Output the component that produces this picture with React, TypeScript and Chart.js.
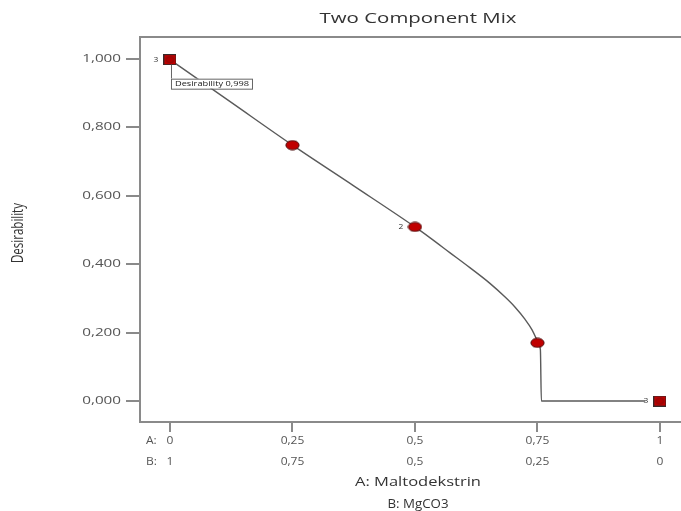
import React, { useEffect, useRef } from "react";
import { Chart, registerables } from "chart.js";

Chart.register(...registerables);

// ---- data ----
const titleText = "Two Component Mix";
const yTitle = "Desirability";
const xTitleA = "A: Maltodekstrin";
const xTitleB = "B: MgCO3";

const yTicks = [0, 0.2, 0.4, 0.6, 0.8, 1.0];
const yTickLabels = ["0,000", "0,200", "0,400", "0,600", "0,800", "1,000"];
const xTicks = [0, 0.25, 0.5, 0.75, 1];
const aTickLabels = ["0", "0,25", "0,5", "0,75", "1"];
const bTickLabels = ["1", "0,75", "0,5", "0,25", "0"];

// desirability curve
const curveX = [0, 0.125, 0.25, 0.375, 0.5, 0.531, 0.571, 0.612, 0.653, 0.684, 0.704, 0.724, 0.739, 0.747, 0.751, 0.756, 0.758, 0.97];
const curveY = [0.998, 0.873, 0.748, 0.629, 0.509, 0.477, 0.434, 0.39, 0.344, 0.304, 0.275, 0.24, 0.208, 0.184, 0.17, 0.15, 0.0, 0.0];

// design points
const designX = [0.25, 0.5, 0.75];
const designY = [0.748, 0.509, 0.17];
const designLabels = ["", "2", ""];

// end (replicated) points
const endX = [0, 1];
const endY = [0.998, 0];
const endLabels = ["3", "3"];

const optimumLabel = "Desirability 0,998";

const FONT = '"Open Sans", "Noto Sans", sans-serif';

function makeEllipse(): HTMLCanvasElement {
  const c = document.createElement("canvas");
  c.width = 15;
  c.height = 11;
  const g = c.getContext("2d")!;
  g.beginPath();
  g.ellipse(7.5, 5.5, 6.6, 4.6, 0, 0, Math.PI * 2);
  g.fillStyle = "#c00000";
  g.fill();
  g.lineWidth = 1;
  g.strokeStyle = "#4a0a0a";
  g.stroke();
  return c;
}

function makeSquare(): HTMLCanvasElement {
  const c = document.createElement("canvas");
  c.width = 13;
  c.height = 11;
  const g = c.getContext("2d")!;
  g.fillStyle = "#3a2a2a";
  g.fillRect(0, 0, 13, 11);
  g.fillStyle = "#c00000";
  g.fillRect(1, 1, 11, 9);
  g.beginPath();
  g.ellipse(6.5, 5.5, 4, 3.2, 0, 0, Math.PI * 2);
  g.fillStyle = "#b00000";
  g.fill();
  g.lineWidth = 0.8;
  g.strokeStyle = "#7a1010";
  g.stroke();
  return c;
}

function stretchText(
  ctx: CanvasRenderingContext2D,
  text: string,
  x: number,
  y: number,
  font: string,
  sx: number,
  align: CanvasTextAlign,
  color: string
) {
  ctx.save();
  ctx.font = font;
  ctx.fillStyle = color;
  ctx.textBaseline = "middle";
  ctx.textAlign = align;
  ctx.translate(x, y);
  ctx.scale(sx, 1);
  ctx.fillText(text, 0, 0);
  ctx.restore();
}

function fitText(
  ctx: CanvasRenderingContext2D,
  text: string,
  cx: number,
  cy: number,
  font: string,
  width: number,
  color: string,
  rotate = false
) {
  ctx.save();
  ctx.font = font;
  ctx.fillStyle = color;
  ctx.textBaseline = "middle";
  ctx.textAlign = "center";
  const w = ctx.measureText(text).width;
  ctx.translate(cx, cy);
  if (rotate) {
    ctx.rotate(-Math.PI / 2);
    ctx.scale(width / w, 1.3);
  } else {
    ctx.scale(width / w, 1);
  }
  ctx.fillText(text, 0, 0);
  ctx.restore();
}

const decorPlugin = {
  id: "decor",
  afterDraw(chart: any) {
    const ctx: CanvasRenderingContext2D = chart.ctx;
    const { chartArea } = chart;
    const xs = chart.scales.x;
    const ys = chart.scales.y;

    // top frame line
    ctx.save();
    ctx.strokeStyle = "#8a8a8a";
    ctx.lineWidth = 2;
    ctx.beginPath();
    ctx.moveTo(chartArea.left - 1, chartArea.top);
    ctx.lineTo(chart.width, chartArea.top);
    ctx.stroke();
    ctx.restore();

    // title
    fitText(ctx, titleText, 418, 19, `15px ${FONT}`, 197, "#333");
    // axis titles
    fitText(ctx, xTitleA, 418, 483, `12px ${FONT}`, 126, "#333");
    fitText(ctx, xTitleB, 418, 505, `12px ${FONT}`, 61, "#333");
    fitText(ctx, yTitle, 19, 233, `12px ${FONT}`, 60, "#333", true);

    // y tick labels
    yTicks.forEach((v, i) => {
      stretchText(ctx, yTickLabels[i], 121, ys.getPixelForValue(v), `10.5px ${FONT}`, 1.45, "right", "#555");
    });
    // x tick labels (two rows)
    xTicks.forEach((v, i) => {
      const px = xs.getPixelForValue(v);
      stretchText(ctx, aTickLabels[i], px, 441, `10px ${FONT}`, 1.2, "center", "#555");
      stretchText(ctx, bTickLabels[i], px, 462, `10px ${FONT}`, 1.2, "center", "#555");
    });
    stretchText(ctx, "A:", 146, 441, `10px ${FONT}`, 1.2, "left", "#555");
    stretchText(ctx, "B:", 146, 462, `10px ${FONT}`, 1.2, "left", "#555");

    // replicate labels
    endX.forEach((v, i) => {
      stretchText(ctx, endLabels[i], xs.getPixelForValue(v) - 14, ys.getPixelForValue(endY[i]), `7px ${FONT}`, 1.2, "center", "#333");
    });
    designX.forEach((v, i) => {
      if (designLabels[i]) {
        stretchText(ctx, designLabels[i], xs.getPixelForValue(v) - 14, ys.getPixelForValue(designY[i]), `7px ${FONT}`, 1.2, "center", "#333");
      }
    });

    // optimum flag
    const fx = xs.getPixelForValue(endX[0]) + 1;
    const fy = ys.getPixelForValue(endY[0]);
    ctx.save();
    ctx.strokeStyle = "#666";
    ctx.lineWidth = 1;
    ctx.beginPath();
    ctx.moveTo(fx + 0.5, fy + 5);
    ctx.lineTo(fx + 0.5, fy + 19);
    ctx.stroke();
    ctx.fillStyle = "#fff";
    ctx.fillRect(fx, fy + 19, 81, 10);
    ctx.strokeRect(fx + 0.5, fy + 19.5, 81, 10);
    ctx.restore();
    fitText(ctx, optimumLabel, fx + 41, fy + 24.5, `7.5px ${FONT}`, 74, "#222");
  },
};

export default function App() {
  const ref = useRef<HTMLCanvasElement | null>(null);

  useEffect(() => {
    if (!ref.current) return;
    const ellipse = makeEllipse();
    const square = makeSquare();

    const chart = new Chart(ref.current, {
      type: "line",
      data: {
        datasets: [
          {
            label: "ends",
            data: endX.map((x, i) => ({ x, y: endY[i] })),
            showLine: false,
            pointStyle: square as any,
            pointRadius: 6,
            order: 0,
          },
          {
            label: "design",
            data: designX.map((x, i) => ({ x, y: designY[i] })),
            showLine: false,
            pointStyle: ellipse as any,
            pointRadius: 6,
            order: 1,
          },
          {
            label: "curve",
            data: curveX.map((x, i) => ({ x, y: curveY[i] })),
            borderColor: "#5a5a5a",
            borderWidth: 1.4,
            pointRadius: 0,
            cubicInterpolationMode: "monotone",
            fill: false,
            order: 2,
          },
        ],
      },
      options: {
        animation: false,
        responsive: false,
        devicePixelRatio: 1,
        layout: { autoPadding: false, padding: { top: 37, left: 0, right: 0, bottom: 0 } },
        plugins: {
          legend: { display: false },
          tooltip: { enabled: false },
          title: { display: false },
        },
        scales: {
          x: {
            type: "linear",
            min: -0.0612,
            max: 1.043,
            afterBuildTicks: (s: any) => {
              s.ticks = xTicks.map((v) => ({ value: v }));
            },
            afterFit: (s: any) => {
              s.height = 89;
            },
            ticks: { display: false, autoSkip: false },
            grid: {
              drawOnChartArea: false,
              drawTicks: true,
              tickLength: 10,
              color: "#8a8a8a",
              lineWidth: 2,
            },
            border: { display: true, color: "#8a8a8a", width: 2 },
          },
          y: {
            type: "linear",
            min: -0.0614,
            max: 1.0643,
            afterBuildTicks: (s: any) => {
              s.ticks = yTicks.map((v) => ({ value: v }));
            },
            afterFit: (s: any) => {
              s.width = 140;
            },
            ticks: { display: false, autoSkip: false },
            grid: {
              drawOnChartArea: false,
              drawTicks: true,
              tickLength: 14,
              color: "#8a8a8a",
              lineWidth: 2,
            },
            border: { display: true, color: "#8a8a8a", width: 2 },
          },
        },
      } as any,
      plugins: [decorPlugin],
    });
    return () => chart.destroy();
  }, []);

  return (
    <div style={{ position: "fixed", left: 0, top: 0, width: 681, height: 511, background: "#fff" }}>
      <canvas ref={ref} width={681} height={511} style={{ display: "block", width: 681, height: 511 }} />
    </div>
  );
}
